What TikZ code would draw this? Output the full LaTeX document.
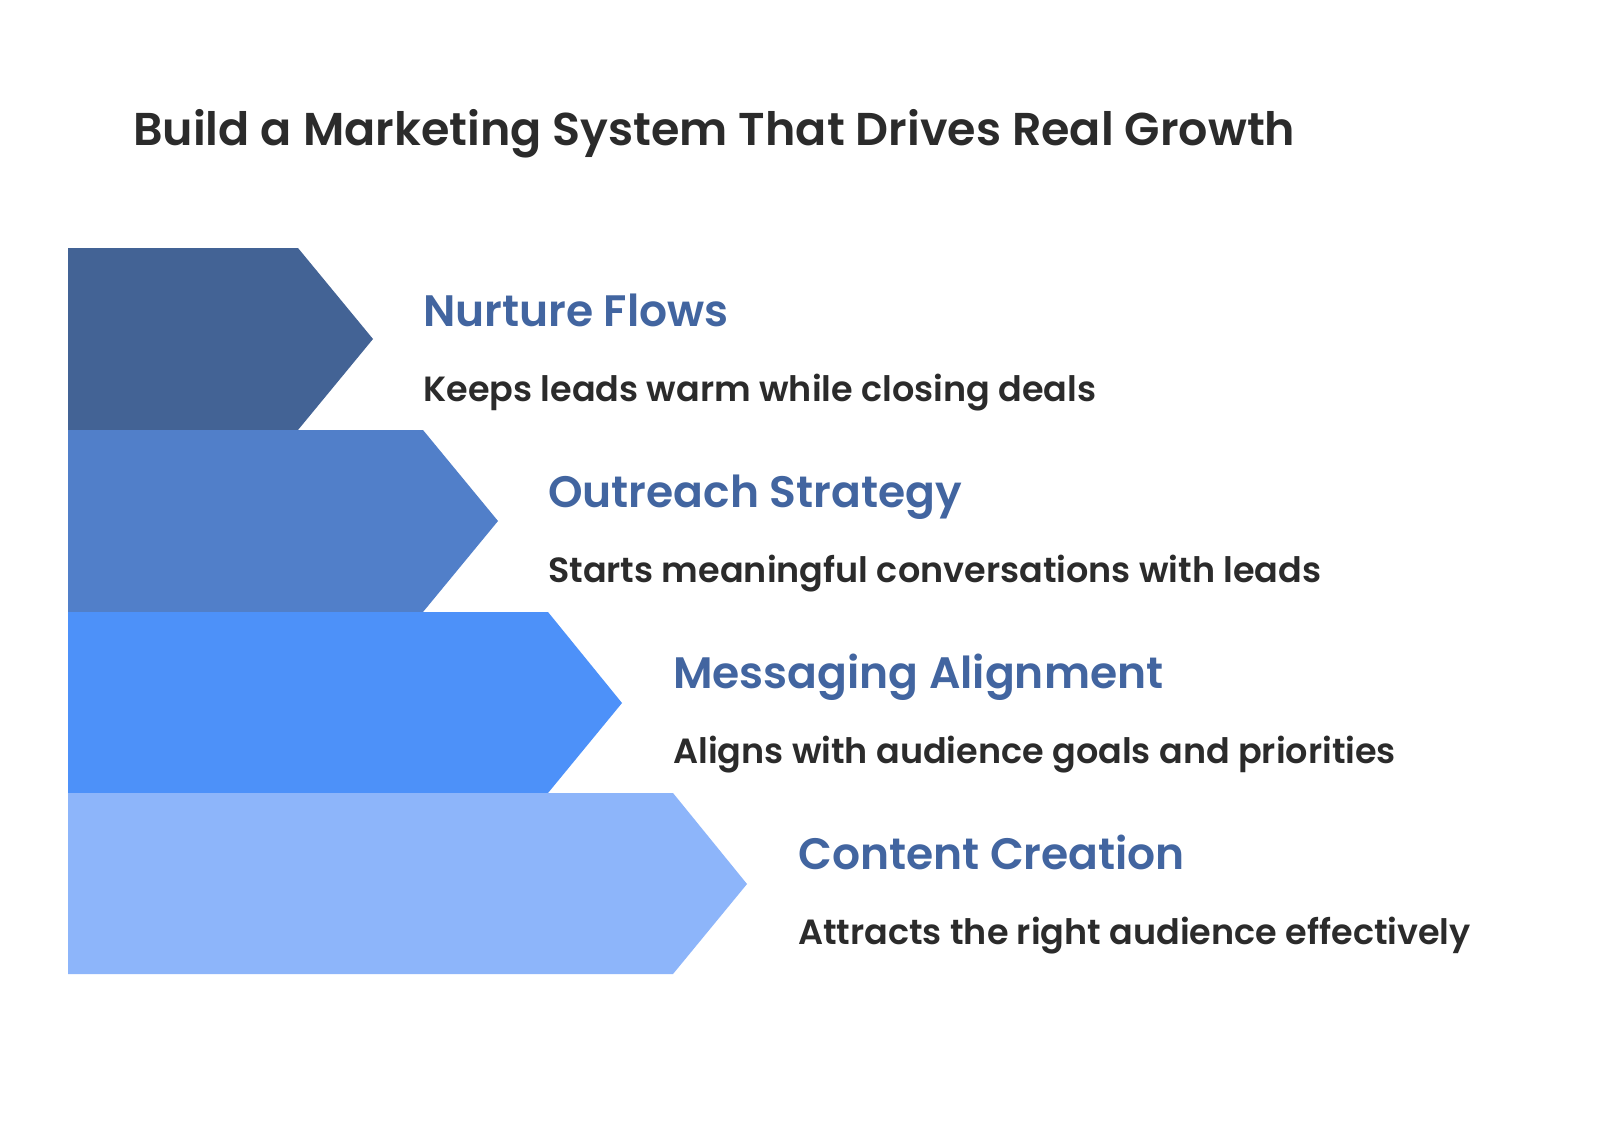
\documentclass[tikz,border=0pt]{standalone}
\usepackage{fontspec}
\setmainfont{Poppins}[BoldFont={* SemiBold}]
\definecolor{c1}{HTML}{436395}
\definecolor{c2}{HTML}{517FC9}
\definecolor{c3}{HTML}{4D91F9}
\definecolor{c4}{HTML}{8DB5FA}
\definecolor{hd}{HTML}{4265A0}
\definecolor{tx}{HTML}{2B2B2B}
\tikzset{head/.style={anchor=base west,text=hd,font=\fontsize{44}{50}\selectfont\bfseries,inner sep=0},
sub/.style={anchor=base west,text=tx,font=\fontsize{35}{40}\selectfont\bfseries,inner sep=0}}
\begin{document}
\begin{tikzpicture}[x=1pt,y=-1pt]
\useasboundingbox[fill=white] (0,0) rectangle (1600,1127);
\node[anchor=base west,text=tx,font=\fontsize{46}{52}\selectfont\bfseries,inner sep=0] (title) at (133,145) {Build a Marketing System That Drives Real Growth};
\fill[c1] (68,248) -- (298,248) -- (373,339) -- (298,430) -- (68,430) -- cycle;
\fill[c2] (68,430) -- (423,430) -- (498,521) -- (423,612) -- (68,612) -- cycle;
\fill[c3] (68,612) -- (548,612) -- (622,703) -- (548,793) -- (68,793) -- cycle;
\fill[c4] (68,793) -- (673,793) -- (747,884) -- (673,974) -- (68,974) -- cycle;
\node[head] (h1) at (423,326) {Nurture Flows};
\node[sub] (s1) at (423,401) {Keeps leads warm while closing deals};
\node[head] (h2) at (548,507) {Outreach Strategy};
\node[sub] (s2) at (548,582) {Starts meaningful conversations with leads};
\node[head] (h3) at (673,688) {Messaging Alignment};
\node[sub] (s3) at (673,763) {Aligns with audience goals and priorities};
\node[head] (h4) at (798,869) {Content Creation};
\node[sub] (s4) at (798,944) {Attracts the right audience effectively};
\end{tikzpicture}
\end{document}
